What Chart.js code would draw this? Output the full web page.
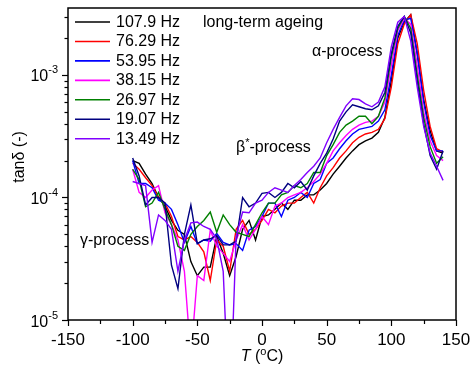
<!DOCTYPE html>
<html>
<head>
<meta charset="utf-8">
<script src="https://cdn.jsdelivr.net/npm/chart.js@4.4.1/dist/chart.umd.min.js"></script>
<style>
html,body{margin:0;padding:0;background:#fff;}
#wrap{width:472px;height:370px;}
</style>
</head>
<body>
<div id="wrap"><canvas id="c" width="472" height="370"></canvas></div>
<script>
// ---- data ----
const temperatures = [-100,-95,-90,-85,-80,-75,-70,-65,-60,-55,-50,-45,-40,-35,-30,-25,-20,-15,-10,-5,0,5,10,15,20,25,30,35,40,45,50,55,60,65,70,75,80,85,90,95,100,105,110,115,120,125,130,135,140];

const tan_107_9 = [2.0e-4,1.9e-4,1.55e-4,1.3e-4,1.0e-4,8.5e-5,6.5e-5,5.4e-5,5.0e-5,3.0e-5,2.3e-5,2.7e-5,2.7e-5,4.8e-5,3.5e-5,2.3e-5,3.3e-5,5.5e-5,6.5e-5,4.5e-5,7.0e-5,7.2e-5,8.0e-5,9.0e-5,8.0e-5,9.5e-5,9.5e-5,1.05e-4,1.05e-4,1.15e-4,1.3e-4,1.55e-4,1.8e-4,2.1e-4,2.4e-4,2.7e-4,2.9e-4,3.05e-4,3.4e-4,4.5e-4,9.0e-4,2.0e-3,2.7e-3,3.1e-3,1.5e-3,6.3e-4,3.5e-4,2.4e-4,2.3e-4];
const tan_76_29 = [1.9e-4,1.7e-4,1.45e-4,1.25e-4,1.0e-4,9.0e-5,7.0e-5,4.8e-5,4.5e-5,4.8e-5,4.3e-5,3.6e-5,2.1e-5,4.5e-5,4.0e-5,2.5e-5,5.5e-5,6.5e-5,5.0e-5,5.5e-5,6.5e-5,8.0e-5,7.5e-5,8.5e-5,9.0e-5,9.0e-5,1.0e-4,1.1e-4,9.0e-5,1.2e-4,1.5e-4,1.75e-4,2.1e-4,2.4e-4,2.8e-4,3.1e-4,3.3e-4,3.4e-4,3.6e-4,4.4e-4,8.0e-4,1.8e-3,2.6e-3,3.1e-3,1.8e-3,7.5e-4,3.8e-4,2.5e-4,2.35e-4];
const tan_53_95 = [2.0e-4,1.3e-4,1.3e-4,1.2e-4,9.5e-5,9.0e-5,8.0e-5,6.0e-5,4.3e-5,5.8e-5,4.2e-5,4.5e-5,4.4e-5,5.1e-5,4.3e-5,4.1e-5,4.2e-5,3.7e-5,5.4e-5,5.8e-5,7.0e-5,9.0e-5,9.0e-5,7.0e-5,9.5e-5,1.0e-4,1.1e-4,1.0e-4,1.3e-4,1.4e-4,1.9e-4,2.1e-4,2.5e-4,2.9e-4,3.3e-4,3.6e-4,3.7e-4,3.8e-4,4.2e-4,5.2e-4,1.0e-3,2.1e-3,2.8e-3,2.9e-3,1.5e-3,6.0e-4,3.2e-4,2.4e-4,2.4e-4];
const tan_38_15 = [1.7e-4,1.1e-4,1.0e-4,1.15e-4,1.25e-4,7.5e-5,6.0e-5,4.5e-5,2.5e-5,5.0e-6,2.3e-5,2.1e-5,5.4e-5,4.0e-5,3.5e-5,3.0e-5,4.5e-5,6.0e-5,4.5e-5,5.5e-5,7.0e-5,6.0e-5,8.5e-5,9.0e-5,1.0e-4,1.05e-4,1.1e-4,1.2e-4,1.35e-4,1.55e-4,1.9e-4,2.4e-4,2.8e-4,3.2e-4,3.6e-4,3.9e-4,4.1e-4,4.2e-4,4.6e-4,6.0e-4,1.2e-3,2.3e-3,2.9e-3,2.6e-3,1.2e-3,5.0e-4,2.9e-4,2.2e-4,2.0e-4];
const tan_26_97 = [1.7e-4,1.4e-4,8.4e-5,9.0e-5,1.1e-4,8.0e-5,6.0e-5,4.0e-5,3.7e-5,5.0e-5,5.8e-5,6.5e-5,7.6e-5,5.2e-5,7.2e-5,6.0e-5,5.2e-5,5.0e-5,4.8e-5,6.0e-5,7.5e-5,9.0e-5,9.0e-5,1.05e-4,1.1e-4,1.25e-4,1.2e-4,1.3e-4,1.6e-4,1.6e-4,2.2e-4,2.7e-4,3.4e-4,3.9e-4,4.2e-4,4.6e-4,4.6e-4,4.0e-4,4.6e-4,6.5e-4,1.4e-3,2.4e-3,3.0e-3,2.4e-3,1.0e-3,4.5e-4,2.6e-4,1.9e-4,2.15e-4];
const tan_19_07 = [2.1e-4,1.5e-4,8.7e-5,1.0e-4,1.0e-4,9.0e-5,2.8e-5,1.8e-5,5.0e-5,8.7e-5,4.2e-5,4.5e-5,4.6e-5,4.9e-5,4.1e-5,4.1e-5,4.4e-5,1.0e-4,8.4e-5,9.0e-5,1.08e-4,1.1e-4,1.0e-4,1.1e-4,1.3e-4,1.2e-4,1.35e-4,1.15e-4,1.5e-4,1.9e-4,2.3e-4,3.0e-4,4.2e-4,5.0e-4,5.7e-4,5.5e-4,5.3e-4,5.2e-4,5.6e-4,7.2e-4,1.5e-3,2.5e-3,3.0e-3,2.2e-3,9.0e-4,4.0e-4,2.2e-4,1.7e-4,2.4e-4];
const tan_13_49 = [1.35e-4,1.3e-4,1.25e-4,4.3e-5,7.2e-5,6.5e-5,5.5e-5,2.5e-5,4.5e-5,6.2e-5,6.3e-5,5.8e-5,5.5e-5,4.6e-5,2.5e-5,1.5e-6,4.8e-5,7.6e-5,7.5e-5,9.0e-5,9.5e-5,1.1e-4,1.2e-4,1.15e-4,1.1e-4,1.25e-4,1.4e-4,1.6e-4,1.8e-4,2.1e-4,2.8e-4,3.6e-4,4.5e-4,5.6e-4,6.4e-4,6.3e-4,5.8e-4,5.5e-4,6.0e-4,8.0e-4,1.7e-3,2.7e-3,3.0e-3,1.9e-3,8.0e-4,3.8e-4,2.3e-4,1.8e-4,1.38e-4];

const seriesLabels = ["107.9 Hz","76.29 Hz","53.95 Hz","38.15 Hz","26.97 Hz","19.07 Hz","13.49 Hz"];
const seriesValues = [tan_107_9,tan_76_29,tan_53_95,tan_38_15,tan_26_97,tan_19_07,tan_13_49];
const xTickValues = [-150,-100,-50,0,50,100,150];
const yDecades = [-5,-4,-3];

// ---- styles ----
const colors = ["#000000","#ff0000","#0000ff","#ff00ff","#008000","#000080","#8000ff"];
const FONT = '"Liberation Sans", Arial, Helvetica, sans-serif';

const datasets = seriesValues.map((vals,i)=>({
  label: seriesLabels[i],
  data: temperatures.map((t,j)=>({x:t,y:vals[j]})),
  borderColor: colors[i],
  backgroundColor: colors[i],
  borderWidth: 1.4,
  pointRadius: 0,
  tension: 0,
  fill: false,
  order: seriesValues.length-1-i
}));

function supText(ctx, parts, x, y){
  // parts: [{t, size, dy, italic}]
  let cx = x;
  for(const p of parts){
    ctx.font = (p.italic?'italic ':'') + p.size + 'px ' + FONT;
    ctx.fillText(p.t, cx, y + (p.dy||0));
    cx += ctx.measureText(p.t).width;
  }
  return cx;
}
function partsWidth(ctx, parts){
  let w=0;
  for(const p of parts){ ctx.font=(p.italic?'italic ':'')+p.size+'px '+FONT; w+=ctx.measureText(p.t).width; }
  return w;
}

const decor = {
  id:'decor',
  afterDatasetsDraw(chart){
    const ctx = chart.ctx, ca = chart.chartArea;
    const xs = chart.scales.x, ys = chart.scales.y;
    ctx.save();
    ctx.strokeStyle='#000'; ctx.fillStyle='#000';
    ctx.lineWidth=1.5;
    ctx.strokeRect(ca.left, ca.top, ca.right-ca.left, ca.bottom-ca.top);
    ctx.lineWidth=1.2;
    // x ticks
    for(let v=-150; v<=150; v+=25){
      const px = Math.round(xs.getPixelForValue(v))+0.5;
      const len = (v%50===0)?6:4;
      ctx.beginPath(); ctx.moveTo(px, ca.bottom); ctx.lineTo(px, ca.bottom+len); ctx.stroke();
    }
    // y ticks
    for(const d of [-5,-4,-3]){
      for(let m=1;m<=9;m++){
        const v = m*Math.pow(10,d);
        if(v>ys.max*1.0001) continue;
        const py = Math.round(ys.getPixelForValue(v))+0.5;
        const len = (m===1)?6:3.5;
        ctx.beginPath(); ctx.moveTo(ca.left-len, py); ctx.lineTo(ca.left, py); ctx.stroke();
      }
    }
    // x tick labels
    ctx.font='17px '+FONT; ctx.textAlign='center'; ctx.textBaseline='alphabetic';
    for(const v of xTickValues){
      ctx.fillText(String(v), xs.getPixelForValue(v), 345);
    }
    // y tick labels
    ctx.textAlign='left';
    for(const d of yDecades){
      const py = ys.getPixelForValue(Math.pow(10,d));
      const parts=[{t:'10',size:16,dy:6.5},{t:String(d),size:11,dy:-1.5}];
      const w = partsWidth(ctx, parts);
      supText(ctx, parts, ca.left-10-w, py);
    }
    // x title
    {
      const parts=[{t:'T',size:16,italic:true},{t:' (',size:16},{t:'o',size:11,dy:-6},{t:'C)',size:16}];
      const w=partsWidth(ctx,parts);
      supText(ctx, parts, 262-w/2, 361);
    }
    // y title
    ctx.save();
    ctx.translate(24, 157); ctx.rotate(-Math.PI/2);
    ctx.font='16px '+FONT; ctx.textAlign='center'; ctx.textBaseline='alphabetic';
    ctx.fillText('tan\u03B4 (-)', 0, 0);
    ctx.restore();
    // legend
    ctx.textAlign='left'; ctx.textBaseline='middle'; ctx.font='16px '+FONT;
    chart.data.datasets.forEach((ds,i)=>{
      const y = 22 + i*19.45;
      ctx.strokeStyle=ds.borderColor; ctx.lineWidth=1.6;
      ctx.beginPath(); ctx.moveTo(75,y); ctx.lineTo(110,y); ctx.stroke();
      ctx.fillStyle='#000';
      ctx.fillText(ds.label, 116, y+0.5);
    });
    // annotations
    ctx.textBaseline='alphabetic'; ctx.fillStyle='#000';
    ctx.font='16px '+FONT;
    ctx.fillText('long-term ageing', 203, 27);
    ctx.fillText('\u03B1-process', 312, 56);
    ctx.fillText('\u03B3-process', 80, 245);
    supText(ctx,[{t:'\u03B2',size:16},{t:'*',size:11,dy:-6},{t:'-process',size:16}],236,152);
    ctx.restore();
  }
};

new Chart(document.getElementById('c'), {
  type:'line',
  data:{datasets},
  options:{
    responsive:false,
    animation:false,
    devicePixelRatio:1,
    layout:{padding:{left:68,right:16,top:8,bottom:50}},
    plugins:{legend:{display:false},tooltip:{enabled:false}},
    scales:{
      x:{type:'linear',min:-150,max:150,display:false},
      y:{type:'logarithmic',min:1e-5,max:3.52e-3,display:false}
    },
    elements:{line:{borderJoinStyle:'miter'}}
  },
  plugins:[decor]
});
</script>
</body>
</html>
